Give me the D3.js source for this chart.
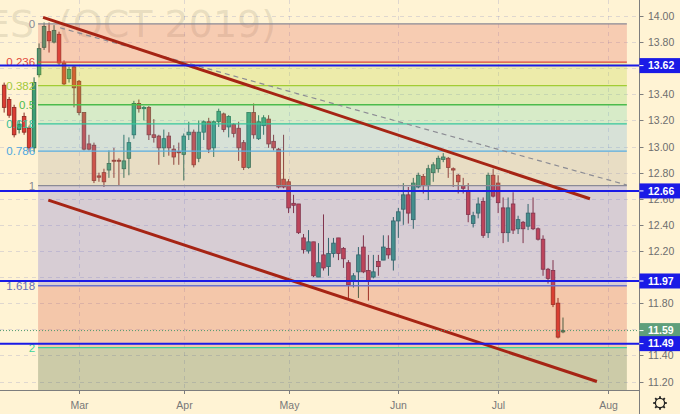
<!DOCTYPE html>
<html><head><meta charset="utf-8">
<script src="https://cdn.jsdelivr.net/npm/d3@7"></script>
<style>html,body{margin:0;padding:0;background:#fff3d4;overflow:hidden} svg{display:block}</style>
</head><body><svg id="c" width="680" height="414"></svg>
<script>
// ---- data ----
const ohlc = [
[13.47,13.49,13.26,13.30],[13.36,13.38,13.22,13.24],[13.30,13.32,13.07,13.09],[13.13,13.20,13.10,13.17],
[13.23,13.26,13.09,13.11],[13.14,13.16,12.96,12.99],[12.99,13.53,12.96,13.49],[13.55,13.79,13.53,13.75],
[13.76,13.95,13.74,13.92],[13.88,13.95,13.72,13.81],[13.80,13.93,13.79,13.89],[13.86,13.88,13.62,13.64],
[13.64,13.66,13.47,13.48],[13.52,13.61,13.49,13.59],[13.61,13.62,13.30,13.45],[13.50,13.51,13.24,13.26],
[13.26,13.26,12.97,12.98],[13.02,13.09,12.97,12.98],[13.01,13.03,12.72,12.74],[12.775,12.80,12.73,12.765],
[12.80,12.83,12.69,12.73],[12.82,12.97,12.76,12.87],[12.895,12.99,12.76,12.89],[12.895,12.91,12.70,12.89],
[12.83,13.09,12.76,12.89],[12.91,13.07,12.78,13.03],[13.09,13.35,13.06,13.33],[13.33,13.36,13.26,13.29],
[13.29,13.31,13.20,13.30],[13.30,13.31,13.05,13.09],[13.09,13.21,13.03,13.07],[13.08,13.09,12.86,12.99],
[12.99,13.13,12.92,13.06],[13.08,13.11,12.93,12.99],[12.98,13.01,12.86,12.92],[12.96,13.03,12.86,12.955],
[12.94,13.10,12.74,13.08],[13.09,13.19,13.05,13.11],[13.11,13.13,12.84,12.86],[12.91,13.20,12.88,13.11],
[13.11,13.20,13.05,13.19],[13.19,13.22,12.95,12.98],[12.99,13.20,12.92,13.19],[13.19,13.29,13.15,13.27],
[13.25,13.26,13.11,13.13],[13.15,13.24,13.07,13.23],[13.17,13.18,13.07,13.10],[13.14,13.19,12.89,12.99],
[13.03,13.05,12.82,12.84],[12.84,13.26,12.83,13.26],[13.26,13.33,13.06,13.09],[13.06,13.24,13.05,13.19],
[13.16,13.24,13.09,13.22],[13.21,13.24,12.99,13.02],[13.04,13.09,12.97,12.99],[12.98,12.99,12.68,12.69],
[12.75,13.09,12.68,12.69],[12.73,12.75,12.49,12.53],[12.565,12.63,12.49,12.55],[12.56,12.56,12.33,12.34],
[12.30,12.33,12.18,12.21],[12.20,12.36,12.18,12.27],[12.27,12.27,12.00,12.01],[12.00,12.26,12.00,12.11],
[12.17,12.48,12.05,12.07],[12.08,12.30,12.01,12.18],[12.18,12.30,12.15,12.26],[12.30,12.30,12.13,12.18],
[12.22,12.23,12.07,12.14],[12.11,12.13,11.84,11.94],[11.97,12.03,11.92,12.01],[12.04,12.23,11.84,12.17],
[12.23,12.32,12.03,12.04],[12.05,12.17,11.82,11.97],[12.00,12.17,11.99,12.04],[12.12,12.17,12.01,12.08],
[12.13,12.32,12.13,12.23],[12.22,12.32,12.14,12.17],[12.13,12.46,12.05,12.43],[12.43,12.53,12.30,12.50],
[12.52,12.72,12.40,12.63],[12.63,12.69,12.41,12.49],[12.44,12.76,12.37,12.72],[12.69,12.80,12.68,12.78],
[12.77,12.79,12.64,12.70],[12.70,12.86,12.59,12.83],[12.80,12.88,12.73,12.86],[12.83,12.93,12.80,12.91],
[12.90,12.95,12.88,12.92],[12.91,12.92,12.76,12.84],[12.83,12.84,12.69,12.82],[12.78,12.79,12.64,12.73],
[12.70,12.76,12.64,12.68],[12.66,12.72,12.42,12.48],[12.41,12.50,12.38,12.47],[12.49,12.61,12.45,12.56],
[12.58,12.61,12.30,12.32],[12.34,12.80,12.30,12.78],[12.78,12.83,12.61,12.62],[12.72,12.78,12.49,12.57],
[12.53,12.61,12.26,12.34],[12.34,12.61,12.27,12.53],[12.56,12.65,12.33,12.36],[12.37,12.47,12.33,12.44],
[12.42,12.43,12.26,12.37],[12.39,12.56,12.36,12.49],[12.49,12.61,12.36,12.37],[12.37,12.38,12.28,12.29],
[12.29,12.32,12.01,12.06],[12.06,12.07,11.95,11.99],[12.05,12.13,11.77,11.79],[11.80,11.84,11.53,11.54],
[11.58,11.69,11.57,11.59]
];
const monthLabels = ["Mar","Apr","May","Jun","Jul","Aug"];
const monthIndex  = [15, 36, 57, 79, 99, 121];
const priceTicks  = [14.0,13.8,13.6,13.4,13.2,13.0,12.8,12.6,12.4,12.2,12.0,11.8,11.6,11.4,11.2];
const fibLevels   = [0, 0.236, 0.382, 0.5, 0.618, 0.786, 1, 1.618, 2, 2.618];
const fibLabels   = ["0","0.236","0.382","0.5","0.618","0.786","1","1.618","2",""];
const fibHigh = 13.94, fibLow = 12.70, fibStartIdx = 6.8, fibEndIdx = 124.8;
const hLevels = [13.62, 12.66, 11.97, 11.49];
const lastPrice = 11.59;
const trendUpper = [[7.8, 13.99],[117.4, 12.60]];
const trendLower = [[8.85, 12.59],[118.8, 11.20]];
const trendDashed = [[11.2, 13.91],[124.8, 12.705]];
const titleParts = ["ES", "(OCT 2019)"];

// ---- styles ----
const bg = "#fff3d4";
const zoneColors = ["rgb(223,88,76)","rgb(183,212,44)","rgb(123,212,84)","rgb(95,212,164)","rgb(95,172,224)",
  "rgb(163,156,148)","rgb(95,92,212)","rgb(211,68,44)","rgb(51,84,36)"];
const levelColors = ["#8a8a96","#e0463c","#a2cc34","#4cbb4c","#36c79c","#5aaee0","#8a8a96","#6a74d0","#3dd39b","#3dd39b"];
const labelColors = ["#8a8a96","#e0463c","#a2c83a","#4cbb4c","#34c096","#4ea8e0","#8a8a96","#6670b8","#3dd39b",""];

const W = 680, H = 414, plotR = 639.5, plotB = 390.5;
const svg = d3.select("#c");
const x = d3.scaleLinear().domain([0, 121]).range([4.15, 607.9]);
const y = d3.scaleLinear().domain([11.2, 14.0]).range([381.5, 16]);
const fibPrice = l => fibHigh - l * (fibHigh - fibLow);

svg.append("rect").attr("width", W).attr("height", H).attr("fill", bg);

const plot = svg.append("g");
plot.append("clipPath").attr("id","pc").append("rect").attr("x",0).attr("y",0).attr("width",plotR).attr("height",plotB);
const P = plot.append("g").attr("clip-path","url(#pc)");

// title watermark
P.append("text").attr("x",-14).attr("y",37).attr("font-family","DejaVu Sans").attr("font-size",38)
  .attr("fill","rgba(120,110,90,0.17)").text(titleParts[0]);
P.append("text").attr("x",58).attr("y",37).attr("font-family","DejaVu Sans").attr("font-size",38)
  .attr("fill","rgba(120,110,90,0.17)").text(titleParts[1]);

// grid
P.selectAll(".hg").data(priceTicks).enter().append("line")
  .attr("x1",0).attr("x2",plotR).attr("y1",d=>Math.round(y(d))+0.5).attr("y2",d=>Math.round(y(d))+0.5)
  .attr("stroke","rgba(110,120,190,0.22)").attr("stroke-dasharray","4,4");
P.selectAll(".vg").data(monthIndex).enter().append("line")
  .attr("y1",0).attr("y2",plotB).attr("x1",d=>Math.round(x(d))+0.5).attr("x2",d=>Math.round(x(d))+0.5)
  .attr("stroke","rgba(110,120,190,0.22)").attr("stroke-dasharray","4,4");

// candles
const bw = 3.6;
const cg = P.append("g");
ohlc.forEach((d,i)=>{
  const [o,h,l,c] = d; const up = c >= o;
  const cx = x(i);
  cg.append("line").attr("x1",cx).attr("x2",cx).attr("y1",y(h)).attr("y2",y(l))
    .attr("stroke", up ? "#24664a" : "#8b2720").attr("stroke-width",1);
  const top = y(Math.max(o,c)), bot = y(Math.min(o,c));
  cg.append("rect").attr("x",cx-bw/2).attr("y",top).attr("width",bw).attr("height",Math.max(1,bot-top))
    .attr("fill", up ? "#3d9f76" : "#dc3d33").attr("stroke", up ? "#24664a" : "#8b2720").attr("stroke-width",0.8);
});

// fib zones (overlay)
const fx0 = x(fibStartIdx), fx1 = x(fibEndIdx);
for (let k = 0; k < fibLevels.length - 1; k++) {
  const yt = y(fibPrice(fibLevels[k])), yb = y(fibPrice(fibLevels[k+1]));
  P.append("rect").attr("x",fx0).attr("y",yt).attr("width",fx1-fx0).attr("height",yb-yt)
    .attr("fill",zoneColors[k]).attr("fill-opacity",0.25);
}
fibLevels.slice(0,9).forEach((l,k)=>{
  const yy = y(fibPrice(l));
  P.append("line").attr("x1",fx0).attr("x2",fx1).attr("y1",yy).attr("y2",yy)
    .attr("stroke",levelColors[k]).attr("stroke-width",1.3);
  P.append("text").attr("x",fx0-3).attr("y",yy).attr("dy","0.35em").attr("text-anchor","end")
    .attr("font-family","Liberation Sans, Arial").attr("font-size",11.5).attr("fill",labelColors[k]).text(fibLabels[k]);
});

// trend lines
const ln = d3.line().x(d=>x(d[0])).y(d=>y(d[1]));
P.append("path").attr("d",ln(trendDashed)).attr("stroke","#8c8c94").attr("stroke-width",1.2)
  .attr("stroke-dasharray","5,4").attr("fill","none");
P.append("path").attr("d",ln(trendUpper)).attr("stroke","#a62414").attr("stroke-width",3).attr("fill","none");
P.append("path").attr("d",ln(trendLower)).attr("stroke","#a62414").attr("stroke-width",3).attr("fill","none");

// horizontal blue levels
hLevels.forEach(v=>{
  P.append("line").attr("x1",0).attr("x2",plotR).attr("y1",y(v)).attr("y2",y(v))
    .attr("stroke","#1a1ae6").attr("stroke-width",2);
});
// last price line
P.append("line").attr("x1",0).attr("x2",plotR).attr("y1",y(lastPrice)).attr("y2",y(lastPrice))
  .attr("stroke","#4f9a70").attr("stroke-width",1).attr("stroke-dasharray","1,2");

// axes frame
svg.append("line").attr("x1",plotR).attr("x2",plotR).attr("y1",0).attr("y2",H).attr("stroke","#7d7d7d").attr("stroke-width",1);
svg.append("line").attr("x1",0).attr("x2",plotR).attr("y1",plotB).attr("y2",plotB).attr("stroke","#7d7d7d").attr("stroke-width",1);

// right axis
const ra = svg.append("g");
const boxPrices = hLevels.concat([lastPrice]);
priceTicks.forEach(v=>{
  const yy = Math.round(y(v))+0.5;
  ra.append("line").attr("x1",plotR).attr("x2",plotR+4).attr("y1",yy).attr("y2",yy).attr("stroke","#7d7d7d");
  // labels fully hidden behind a price box are not drawn
  const hidden = boxPrices.some(b => Math.abs(y(b) - y(v)) < 7);
  if (!hidden) {
    ra.append("text").attr("x",648).attr("y",yy).attr("dy","0.35em").attr("font-family","Liberation Sans, Arial")
      .attr("font-size",10.5).attr("fill","#6e6e6e").text(v.toFixed(2));
  }
});
function priceBox(v, col){
  const yy = y(v);
  ra.append("rect").attr("x",plotR).attr("y",yy-7.5).attr("width",W-plotR).attr("height",15).attr("fill",col);
  ra.append("line").attr("x1",plotR).attr("x2",plotR+4).attr("y1",yy).attr("y2",yy).attr("stroke","#fff");
  ra.append("text").attr("x",648).attr("y",yy).attr("dy","0.35em").attr("font-family","Liberation Sans, Arial")
    .attr("font-size",10.5).attr("font-weight","bold").attr("fill","#fff").text(v.toFixed(2));
}
priceBox(lastPrice, "#5f9f7b");
hLevels.forEach(v=>priceBox(v, "#1a1ae6"));

// bottom axis
monthIndex.forEach((m,k)=>{
  const xx = Math.round(x(m))+0.5;
  svg.append("line").attr("x1",xx).attr("x2",xx).attr("y1",plotB).attr("y2",plotB+3.5).attr("stroke","#7d7d7d");
  svg.append("text").attr("x",xx).attr("y",405).attr("dy","0.35em").attr("text-anchor","middle")
    .attr("font-family","Liberation Sans, Arial").attr("font-size",10.5).attr("fill","#787878").text(monthLabels[k]);
});

// gear icon
const gx = 660, gy = 403;
const gear = svg.append("g").attr("stroke","#222").attr("fill","none").attr("stroke-width",1.3);
gear.append("circle").attr("cx",gx).attr("cy",gy).attr("r",4.6);
d3.range(8).forEach(k=>{
  const a = k*Math.PI/4;
  gear.append("line").attr("x1",gx+4.6*Math.cos(a)).attr("y1",gy+4.6*Math.sin(a))
    .attr("x2",gx+6.8*Math.cos(a)).attr("y2",gy+6.8*Math.sin(a)).attr("stroke-width",1.8);
});
</script></body></html>
